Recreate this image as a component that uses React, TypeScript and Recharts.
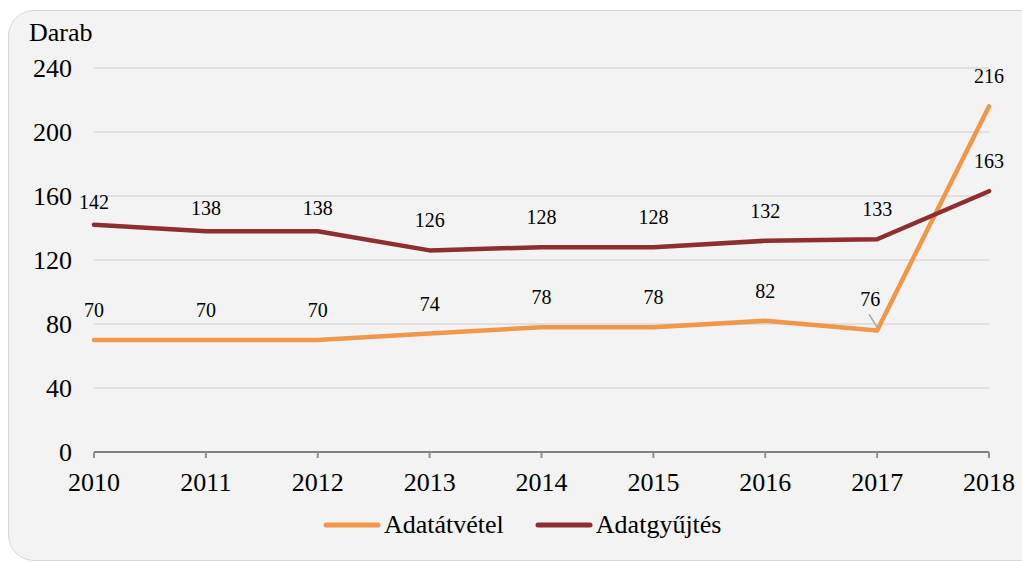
import { CartesianGrid, LabelList, Legend, Line, LineChart, XAxis, YAxis } from "recharts"

const years = ["2010", "2011", "2012", "2013", "2014", "2015", "2016", "2017", "2018"]
const adatatvetel = [70, 70, 70, 74, 78, 78, 82, 76, 216]
const adatgyujtes = [142, 138, 138, 126, 128, 128, 132, 133, 163]
const yTicks = [0, 40, 80, 120, 160, 200, 240]
const seriesOrder = ["adatatvetel", "adatgyujtes"]

const data = years.map((year, i) => ({
  year,
  adatatvetel: adatatvetel[i],
  adatgyujtes: adatgyujtes[i],
}))

const FONT = '"Liberation Serif", "Times New Roman", serif'
const ORANGE = "#f0974a"
const BROWN = "#8e2e30"

// orange labels sit ~23px above the point; the 2017 one is nudged left with a leader line
function OrangeLabel(props: any) {
  const { x, y, value, index } = props
  if (index === 7) {
    return (
      <g>
        <line x1={x - 8} y1={y - 16} x2={x} y2={y - 3} stroke="#a6a6a6" strokeWidth={1.5} />
        <text x={x - 7} y={y - 24} textAnchor="middle" fontSize={20} fontFamily={FONT} fill="#000">
          {value}
        </text>
      </g>
    )
  }
  return (
    <text x={x} y={y - 23} textAnchor="middle" fontSize={20} fontFamily={FONT} fill="#000">
      {value}
    </text>
  )
}

function BrownLabel(props: any) {
  const { x, y, value, index } = props
  const off = index < 3 ? 16 : 23
  return (
    <text x={x} y={y - off} textAnchor="middle" fontSize={20} fontFamily={FONT} fill="#000">
      {value}
    </text>
  )
}

function LegendContent(props: any) {
  const items = [...(props.payload || [])].sort(
    (a: any, b: any) => seriesOrder.indexOf(a.dataKey) - seriesOrder.indexOf(b.dataKey)
  )
  return (
    <div style={{ display: "flex", alignItems: "center", paddingLeft: 321, fontFamily: FONT, fontSize: 26 }}>
      {items.map((item: any, i: number) => (
        <div key={i} style={{ display: "flex", alignItems: "center", marginRight: 29 }}>
          <svg width={60} height={10}>
            <line x1={5} y1={5} x2={57} y2={5} stroke={item.color} strokeWidth={5} strokeLinecap="round" />
          </svg>
          <span style={{ marginLeft: 3, color: "#000" }}>{item.value}</span>
        </div>
      ))}
    </div>
  )
}

export default function App() {
  return (
    <div style={{ position: "absolute", left: 0, top: 0, width: 1022, height: 562, overflow: "hidden", fontFamily: FONT }}>
      <div
        style={{
          position: "absolute",
          left: 8,
          top: 10,
          width: 1040,
          height: 549,
          border: "1px solid #d6d6d6",
          borderRadius: 26,
          background: "#f2f3f2",
        }}
      />
      <div style={{ position: "absolute", left: 29, top: 20, fontSize: 26, lineHeight: "26px", color: "#000" }}>Darab</div>
      <div style={{ position: "absolute", left: 0, top: 0 }}>
        <LineChart width={1022} height={562} data={data} margin={{ top: 68, right: 33, bottom: 80, left: 0 }}>
          <CartesianGrid vertical={false} stroke="#cbcbcb" strokeWidth={1} />
          <XAxis
            dataKey="year"
            height={30}
            padding={{ left: 0, right: 0 }}
            axisLine={{ stroke: "#828282", strokeWidth: 2 }}
            tickLine={{ stroke: "#909090", strokeWidth: 2 }}
            tickSize={6}
            tickMargin={15}
            tick={{ fill: "#000", fontSize: 26, fontFamily: FONT }}
          />
          <YAxis
            width={94}
            domain={[0, 240]}
            ticks={yTicks}
            axisLine={false}
            tickLine={false}
            tickSize={0}
            tickMargin={22}
            tick={{ fill: "#000", fontSize: 26, fontFamily: FONT }}
          />
          <Legend
            verticalAlign="middle"
            align="center"
            layout="horizontal"
            wrapperStyle={{ top: 510, left: 0, width: 1022, height: 34 }}
            content={<LegendContent />}
          />
          <Line
            type="linear"
            dataKey="adatatvetel"
            name="Adatátvétel"
            stroke={ORANGE}
            strokeWidth={4.5}
            strokeLinecap="round"
            strokeLinejoin="round"
            dot={false}
            activeDot={false}
            isAnimationActive={false}
          >
            <LabelList dataKey="adatatvetel" content={<OrangeLabel />} />
          </Line>
          <Line
            type="linear"
            dataKey="adatgyujtes"
            name="Adatgyűjtés"
            stroke={BROWN}
            strokeWidth={4.5}
            strokeLinecap="round"
            strokeLinejoin="round"
            dot={false}
            activeDot={false}
            isAnimationActive={false}
          >
            <LabelList dataKey="adatgyujtes" content={<BrownLabel />} />
          </Line>
        </LineChart>
      </div>
    </div>
  )
}
